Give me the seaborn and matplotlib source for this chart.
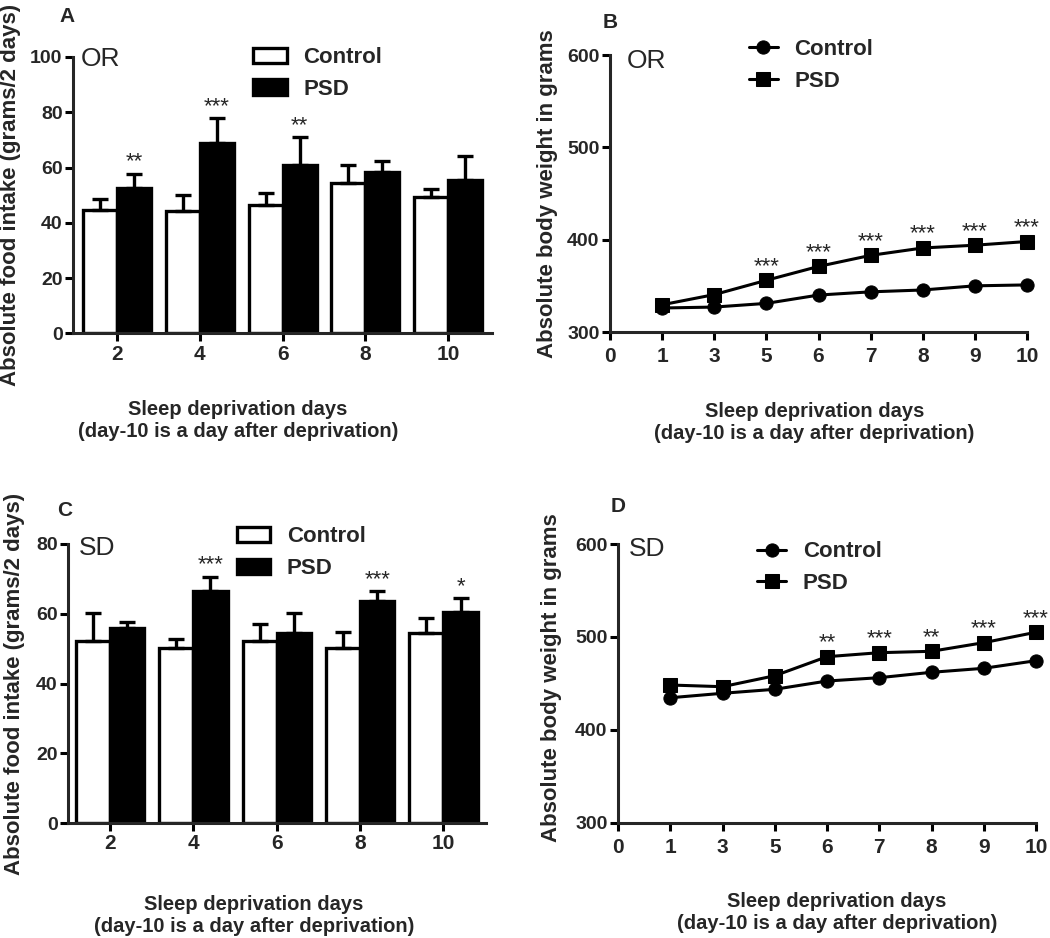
import numpy as np
import pandas as pd
import matplotlib
matplotlib.use("Agg")
import matplotlib.pyplot as plt
import seaborn as sns

# ---------------- data ----------------
bar_days = ["2", "4", "6", "8", "10"]
groups = ["Control", "PSD"]

# Panel A (OR) food intake
A_control = [44.6, 44.4, 46.4, 54.5, 49.2]
A_control_err = [4.0, 5.8, 4.4, 6.4, 3.1]
A_psd = [52.6, 68.8, 61.0, 58.5, 55.5]
A_psd_err = [5.2, 9.1, 10.0, 4.0, 8.7]
A_stars = ["**", "***", "**", "", ""]

# Panel C (SD) food intake
C_control = [52.2, 50.1, 52.2, 50.1, 54.4]
C_control_err = [7.9, 2.6, 4.8, 4.7, 4.3]
C_psd = [55.8, 66.4, 54.4, 63.7, 60.5]
C_psd_err = [1.8, 4.2, 5.7, 2.7, 3.9]
C_stars = ["", "***", "", "***", "*"]

# Panels B / D body weight
wt_ticks = ["0", "1", "3", "5", "6", "7", "8", "9", "10"]
wt_days = ["1", "3", "5", "6", "7", "8", "9", "10"]
B_control = [326, 327, 331, 340, 343.5, 345.5, 350, 351]
B_psd = [329.5, 340.5, 356, 371, 383, 391, 394, 398]
B_stars = ["", "", "***", "***", "***", "***", "***", "***"]
D_control = [434.5, 439.3, 443.6, 452.5, 456.1, 461.9, 466.2, 474.4]
D_psd = [448.2, 446.4, 458.2, 478.7, 483.0, 484.5, 493.8, 505.0]
D_stars = ["", "", "", "**", "***", "**", "***", "***"]

# ---------------- style ----------------
sns.set_style("ticks")
plt.rcParams["font.family"] = ["Liberation Sans", "DejaVu Sans"]
plt.rcParams["font.weight"] = "bold"
plt.rcParams["axes.labelweight"] = "bold"
plt.rcParams["axes.linewidth"] = 2.2

W, H = 1050, 938
fig = plt.figure(figsize=(W / 100, H / 100), dpi=100)


def px_axes(l, r, t, b):
    return fig.add_axes([l / W, 1 - b / H, (r - l) / W, (b - t) / H])


axA = px_axes(73, 492, 57, 333.5)
axB = px_axes(610, 1027, 55, 332)
axC = px_axes(68, 486, 544, 823)
axD = px_axes(618, 1036, 544, 822.7)


def style_axis(ax, xpad):
    sns.despine(ax=ax)
    for s in ["left", "bottom"]:
        ax.spines[s].set_linewidth(2.2)
    ax.tick_params(axis="both", width=2.2, length=5.5, color="black")
    ax.tick_params(axis="y", labelsize=14, pad=2)
    ax.tick_params(axis="x", labelsize=15, pad=xpad)
    for lab in ax.get_xticklabels() + ax.get_yticklabels():
        lab.set_fontweight("bold")


def bar_panel(ax, control, cerr, psd, perr, stars, ymax, yticks, xlim,
              tag, tagpos, legpos, xlabpos, ylabpos):
    df = pd.DataFrame({
        "day": bar_days * 2,
        "value": control + psd,
        "group": ["Control"] * len(bar_days) + ["PSD"] * len(bar_days),
    })
    sns.barplot(data=df, x="day", y="value", hue="group", order=bar_days,
                hue_order=groups, palette={"Control": "white", "PSD": "black"},
                edgecolor="black", linewidth=2.4, width=0.82, gap=0,
                errorbar=None, legend=False, ax=ax, zorder=2)
    bar_conts = list(ax.containers)[:2]
    errs = [cerr, perr]
    for ci, cont in enumerate(bar_conts):
        xs = [b.get_x() + b.get_width() / 2 for b in cont.patches]
        ys = [b.get_height() for b in cont.patches]
        e = errs[ci]
        ax.errorbar(xs, ys, yerr=[np.zeros(len(e)), e], fmt="none",
                    ecolor="black", elinewidth=2.4, capsize=6, capthick=2.4,
                    zorder=3)
        if ci == 1:
            for x, y, ee, st in zip(xs, ys, e, stars):
                if st:
                    ax.annotate(st, (x, y + ee), xytext=(0, 4.5),
                                textcoords="offset points", ha="center",
                                va="baseline", fontsize=16,
                                fontweight="normal")
    ax.set_ylim(0, ymax)
    ax.set_yticks(yticks)
    ax.set_xlim(*xlim)
    style_axis(ax, 2.5)
    handles = [bar_conts[0].patches[0], bar_conts[1].patches[0]]
    ax.legend(handles, groups, loc="upper left", bbox_to_anchor=legpos,
              frameon=False, borderpad=0, borderaxespad=0,
              handlelength=1.5, handleheight=0.7, handletextpad=0.75,
              labelspacing=0.48, prop={"weight": "bold", "size": 16})
    ax.text(tagpos[0], tagpos[1], tag, transform=ax.transAxes, ha="left",
            va="center", fontsize=19, fontweight="normal")
    ax.set_ylabel("Absolute food intake (grams/2 days)", fontsize=16,
                  fontweight="bold")
    ax.yaxis.set_label_coords(*ylabpos)
    ax.yaxis.label.set_verticalalignment("center")
    ax.set_xlabel("Sleep deprivation days\n(day-10 is a day after deprivation)",
                  fontsize=14.5, fontweight="bold", linespacing=1.2)
    ax.xaxis.set_label_coords(*xlabpos)
    ax.xaxis.label.set_verticalalignment("center")


def line_panel(ax, control, psd, stars, tag, tagpos, legpos, xlabpos, ylabpos):
    pos = [wt_ticks.index(d) for d in wt_days]
    df = pd.DataFrame({
        "pos": pos * 2,
        "weight": control + psd,
        "group": ["Control"] * len(pos) + ["PSD"] * len(pos),
    })
    sns.lineplot(data=df, x="pos", y="weight", hue="group", style="group",
                 hue_order=groups, style_order=groups,
                 markers={"Control": "o", "PSD": "s"}, dashes=False,
                 palette={"Control": "black", "PSD": "black"}, linewidth=2.2,
                 markersize=9.5, markeredgecolor="black", legend=False,
                 ax=ax, clip_on=False, zorder=3)
    for x, y, st in zip(pos, psd, stars):
        if st:
            ax.annotate(st, (x, y), xytext=(0, 6), textcoords="offset points",
                        ha="center", va="baseline", fontsize=16,
                        fontweight="normal")
    ax.set_xlim(0, len(wt_ticks) - 1)
    ax.set_xticks(range(len(wt_ticks)))
    ax.set_xticklabels(wt_ticks)
    ax.set_ylim(300, 600)
    ax.set_yticks([300, 400, 500, 600])
    style_axis(ax, 5.5)
    ax.legend(ax.lines[:2], groups, loc="upper left", bbox_to_anchor=legpos,
              frameon=False, borderpad=0, borderaxespad=0, numpoints=1,
              handlelength=1.3, handletextpad=0.75, labelspacing=0.48,
              prop={"weight": "bold", "size": 16})
    ax.text(tagpos[0], tagpos[1], tag, transform=ax.transAxes, ha="left",
            va="center", fontsize=19, fontweight="normal")
    ax.set_ylabel("Absolute body weight in grams", fontsize=16,
                  fontweight="bold")
    ax.yaxis.set_label_coords(*ylabpos)
    ax.yaxis.label.set_verticalalignment("center")
    ax.set_xlabel("Sleep deprivation days\n(day-10 is a day after deprivation)",
                  fontsize=14.5, fontweight="bold", linespacing=1.2)
    ax.xaxis.set_label_coords(*xlabpos)
    ax.xaxis.label.set_verticalalignment("center")


bar_panel(axA, A_control, A_control_err, A_psd, A_psd_err, A_stars, 100,
          [0, 20, 40, 60, 80, 100], (-0.532, 4.53), "OR", (0.019, 0.993),
          (0.43, 1.0355), (0.394, -0.315), (-0.149, 0.5))
bar_panel(axC, C_control, C_control_err, C_psd, C_psd_err, C_stars, 80,
          [0, 20, 40, 60, 80], (-0.504, 4.51), "SD", (0.026, 0.985),
          (0.404, 1.063), (0.445, -0.330), (-0.129, 0.498))
line_panel(axB, B_control, B_psd, B_stars, "OR", (0.041, 0.978),
           (0.333, 1.057), (0.49, -0.325), (-0.151, 0.5))
line_panel(axD, D_control, D_psd, D_stars, "SD", (0.026, 0.982),
           (0.333, 1.009), (0.524, -0.322), (-0.160, 0.521))

for lab, (x, y) in zip("ABCD", [(67, 17), (610, 23), (65, 510), (618, 507)]):
    fig.text(x / W, 1 - y / H, lab, ha="center", va="center", fontsize=15,
             fontweight="bold")

fig.savefig("out.png", dpi=100)
